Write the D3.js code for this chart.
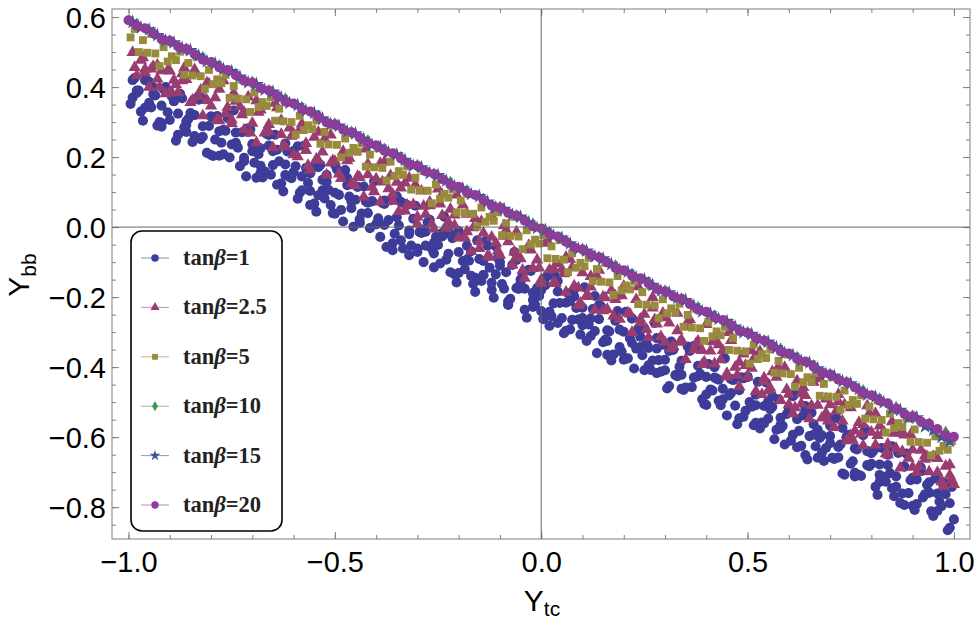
<html>
<head>
<meta charset="utf-8">
<script src="https://cdnjs.cloudflare.com/ajax/libs/d3/7.8.5/d3.min.js"></script>
<style>
    body { margin: 0; background: white; }
    svg { display: block; }
    .frame { fill: none; stroke: #7f7f7f; stroke-width: 1; }
    .tick line { stroke: #7f7f7f; }
    .domain { display: none; }
    .tick text { font-family: 'Liberation Sans', Arial, sans-serif; font-size: 29px; fill: black; }
    .zero { stroke: #666; stroke-width: 1; }
    .axis-title { font-family: 'Liberation Sans', Arial, sans-serif; font-size: 30px; fill: black; }
    .legend-box { fill: white; stroke: black; stroke-width: 1.6; }
    .legend-text { font-family: 'Liberation Serif', 'Times New Roman', serif; font-weight: bold; font-size: 22.5px; fill: #222; }
</style>
</head>
<body>
<svg id='chart' width=975 height=622></svg>
<script>

    // legend labels and axis ticks
    var labels = ['1', '2.5', '5', '10', '15', '20'];
    var xMajor = [-1, -0.5, 0, 0.5, 1];
    var yMajor = [-0.8, -0.6, -0.4, -0.2, 0, 0.2, 0.4, 0.6];

    // tan(beta) = 1 (several sweeps along x)
    var tb1 = [
        [-0.99,0.42],[-0.99,0.37],[-0.98,0.39],[-0.97,0.33],[-0.96,0.42],[-0.95,0.355],[-0.94,0.38],[-0.93,0.29],[-0.92,0.347],[-0.91,0.40],
        [-0.90,0.306],[-0.89,0.36],[-0.88,0.264],[-0.87,0.368],[-0.86,0.302],[-0.85,0.326],[-0.84,0.26],[-0.83,0.364],[-0.82,0.288],[-0.81,0.212],
        [-0.80,0.316],[-0.79,0.25],[-0.78,0.274],[-0.77,0.208],[-0.76,0.312],[-0.75,0.236],[-0.74,0.27],[-0.73,0.174],[-0.72,0.198],[-0.71,0.272],
        [-0.70,0.217],[-0.69,0.141],[-0.68,0.225],[-0.67,0.159],[-0.66,0.263],[-0.65,0.177],[-0.64,0.221],[-0.63,0.125],[-0.62,0.179],[-0.61,0.143],
        [-0.60,0.217],[-0.59,0.081],[-0.58,0.145],[-0.57,0.169],[-0.56,0.103],[-0.55,0.067],[-0.54,0.171],[-0.53,0.105],[-0.52,0.129],[-0.51,0.063],
        [-0.50,0.178],[-0.49,0.092],[-0.48,0.016],[-0.47,0.12],[-0.46,0.054],[-0.45,0.078],[-0.44,0.012],[-0.43,0.116],[-0.42,0.04],[-0.41,0.074],
        [-0.40,0.008],[-0.39,-0.028],[-0.38,0.076],[-0.37,0.02],[-0.36,-0.066],[-0.35,0.028],[-0.34,-0.038],[-0.33,0.066],[-0.32,-0.02],[-0.31,0.024],
        [-0.30,-0.071],[-0.29,-0.017],[-0.28,-0.053],[-0.27,0.021],[-0.26,-0.115],[-0.25,-0.051],[-0.24,-0.027],[-0.23,-0.093],[-0.22,-0.019],[-0.21,-0.135],
        [-0.20,-0.071],[-0.19,-0.097],[-0.18,-0.053],[-0.17,-0.139],[-0.16,-0.185],[-0.15,-0.091],[-0.14,-0.137],[-0.13,-0.053],[-0.12,-0.179],[-0.11,-0.135],
        [-0.10,-0.11],[-0.09,-0.176],[-0.08,-0.222],[-0.07,-0.108],[-0.06,-0.174],[-0.05,-0.16],[-0.04,-0.236],[-0.03,-0.122],[-0.02,-0.208],[-0.01,-0.174],
        [0.00,-0.24],[0.01,-0.166],[0.02,-0.282],[0.03,-0.218],[0.04,-0.154],[0.05,-0.26],[0.06,-0.216],[0.07,-0.292],[0.08,-0.198],[0.09,-0.264],
        [0.10,-0.23],[0.11,-0.325],[0.12,-0.261],[0.13,-0.297],[0.14,-0.223],[0.15,-0.329],[0.16,-0.295],[0.17,-0.381],[0.18,-0.267],[0.19,-0.343],
        [0.20,-0.299],[0.21,-0.375],[0.22,-0.261],[0.23,-0.347],[0.24,-0.313],[0.25,-0.409],[0.26,-0.345],[0.27,-0.381],[0.28,-0.317],[0.29,-0.413],
        [0.30,-0.379],[0.31,-0.454],[0.32,-0.35],[0.33,-0.426],[0.34,-0.382],[0.35,-0.458],[0.36,-0.354],[0.37,-0.43],[0.38,-0.396],[0.39,-0.492],
        [0.40,-0.428],[0.41,-0.464],[0.42,-0.40],[0.43,-0.496],[0.44,-0.462],[0.45,-0.538],[0.46,-0.434],[0.47,-0.51],[0.48,-0.466],[0.49,-0.542],
        [0.50,-0.428],[0.51,-0.513],[0.52,-0.479],[0.53,-0.575],[0.54,-0.511],[0.55,-0.547],[0.56,-0.483],[0.57,-0.579],[0.58,-0.545],[0.59,-0.621],
        [0.60,-0.517],[0.61,-0.593],[0.62,-0.549],[0.63,-0.625],[0.64,-0.521],[0.65,-0.597],[0.66,-0.563],[0.67,-0.659],[0.68,-0.595],[0.69,-0.631],
        [0.70,-0.567],[0.71,-0.662],[0.72,-0.628],[0.73,-0.704],[0.74,-0.60],[0.75,-0.676],[0.76,-0.632],[0.77,-0.708],[0.78,-0.594],[0.79,-0.68],
        [0.80,-0.646],[0.81,-0.742],[0.82,-0.678],[0.83,-0.714],[0.84,-0.65],[0.85,-0.746],[0.86,-0.712],[0.87,-0.788],[0.88,-0.684],[0.89,-0.76],
        [0.90,-0.716],[0.91,-0.791],[0.92,-0.687],[0.93,-0.763],[0.94,-0.729],[0.95,-0.825],[0.96,-0.761],[0.97,-0.797],[0.98,-0.733],[0.99,-0.859],
        [0.99,-0.789],[1.00,-0.835],
        [-0.995,0.352],[-0.985,0.426],[-0.975,0.39],[-0.965,0.304],[-0.955,0.418],[-0.945,0.342],[-0.935,0.376],[-0.925,0.30],[-0.915,0.394],[-0.905,0.328],
        [-0.895,0.373],[-0.885,0.247],[-0.875,0.381],[-0.865,0.285],[-0.855,0.309],[-0.845,0.243],[-0.835,0.367],[-0.825,0.251],[-0.815,0.365],[-0.805,0.289],
        [-0.795,0.203],[-0.785,0.317],[-0.775,0.241],[-0.765,0.275],[-0.755,0.199],[-0.745,0.333],[-0.735,0.227],[-0.725,0.271],[-0.715,0.145],[-0.705,0.279],
        [-0.695,0.184],[-0.685,0.208],[-0.675,0.142],[-0.665,0.266],[-0.655,0.15],[-0.645,0.264],[-0.635,0.188],[-0.625,0.102],[-0.615,0.216],[-0.605,0.14],
        [-0.595,0.174],[-0.585,0.098],[-0.575,0.232],[-0.565,0.126],[-0.555,0.17],[-0.545,0.044],[-0.535,0.178],[-0.525,0.082],[-0.515,0.106],[-0.505,0.04],
        [-0.495,0.165],[-0.485,0.049],[-0.475,0.163],[-0.465,0.087],[-0.455,0.001],[-0.445,0.115],[-0.435,0.039],[-0.425,0.073],[-0.415,-0.003],[-0.405,0.131],
        [-0.395,0.025],[-0.385,0.069],[-0.375,-0.057],[-0.365,0.077],[-0.355,-0.019],[-0.345,0.005],[-0.335,-0.061],[-0.325,0.063],[-0.315,-0.053],[-0.305,0.061],
        [-0.295,-0.014],[-0.285,-0.10],[-0.275,0.014],[-0.265,-0.062],[-0.255,-0.028],[-0.245,-0.104],[-0.235,0.03],[-0.225,-0.076],[-0.215,-0.032],[-0.205,-0.158],
        [-0.195,-0.024],[-0.185,-0.12],[-0.175,-0.096],[-0.165,-0.162],[-0.155,-0.038],[-0.145,-0.154],[-0.135,-0.04],[-0.125,-0.116],[-0.115,-0.202],[-0.105,-0.088],
        [-0.095,-0.163],[-0.085,-0.129],[-0.075,-0.205],[-0.065,-0.071],[-0.055,-0.177],[-0.045,-0.133],[-0.035,-0.259],[-0.025,-0.125],[-0.015,-0.221],[-0.005,-0.197],
        [0.005,-0.263],[0.015,-0.139],[0.025,-0.255],[0.035,-0.141],[0.045,-0.217],[0.055,-0.303],[0.065,-0.189],[0.075,-0.265],[0.085,-0.231],[0.095,-0.307],
        [0.105,-0.172],[0.115,-0.278],[0.125,-0.234],[0.135,-0.36],[0.145,-0.226],[0.155,-0.322],[0.165,-0.298],[0.175,-0.364],[0.185,-0.24],[0.195,-0.356],
        [0.205,-0.242],[0.215,-0.318],[0.225,-0.404],[0.235,-0.29],[0.245,-0.366],[0.255,-0.332],[0.265,-0.408],[0.275,-0.274],[0.285,-0.38],[0.295,-0.336],
        [0.305,-0.461],[0.315,-0.327],[0.325,-0.423],[0.335,-0.399],[0.345,-0.465],[0.355,-0.341],[0.365,-0.457],[0.375,-0.343],[0.385,-0.419],[0.395,-0.505],
        [0.405,-0.391],[0.415,-0.467],[0.425,-0.433],[0.435,-0.509],[0.445,-0.375],[0.455,-0.481],[0.465,-0.437],[0.475,-0.563],[0.485,-0.429],[0.495,-0.525],
        [0.505,-0.50],[0.515,-0.566],[0.525,-0.442],[0.535,-0.558],[0.545,-0.444],[0.555,-0.52],[0.565,-0.606],[0.575,-0.492],[0.585,-0.568],[0.595,-0.534],
        [0.605,-0.61],[0.615,-0.476],[0.625,-0.582],[0.635,-0.538],[0.645,-0.664],[0.655,-0.53],[0.665,-0.626],[0.675,-0.602],[0.685,-0.668],[0.695,-0.544],
        [0.705,-0.659],[0.715,-0.545],[0.725,-0.621],[0.735,-0.707],[0.745,-0.593],[0.755,-0.669],[0.765,-0.635],[0.775,-0.711],[0.785,-0.577],[0.795,-0.683],
        [0.805,-0.639],[0.815,-0.765],[0.825,-0.631],[0.835,-0.727],[0.845,-0.703],[0.855,-0.769],[0.865,-0.645],[0.875,-0.761],[0.885,-0.647],[0.895,-0.723],
        [0.905,-0.808],[0.915,-0.694],[0.925,-0.772],[0.935,-0.736],[0.945,-0.812],[0.955,-0.718],[0.965,-0.784],[0.975,-0.74],[0.985,-0.866],[0.995,-0.742],
        [-0.98,0.383],[-0.95,0.415],[-0.92,0.297],[-0.89,0.36],[-0.86,0.292],[-0.83,0.374],[-0.80,0.206],[-0.77,0.278],[-0.74,0.24],[-0.71,0.282],
        [-0.68,0.155],[-0.65,0.217],[-0.62,0.149],[-0.59,0.231],[-0.56,0.063],[-0.53,0.135],[-0.50,0.098],[-0.47,0.14],[-0.44,0.012],[-0.41,0.074],
        [-0.38,0.006],[-0.35,0.088],[-0.32,-0.08],[-0.29,-0.007],[-0.26,-0.045],[-0.23,-0.003],[-0.20,-0.131],[-0.17,-0.069],[-0.14,-0.137],[-0.11,-0.055],
        [-0.08,-0.222],[-0.05,-0.15],[-0.02,-0.188],[0.01,-0.146],[0.04,-0.274],[0.07,-0.212],[0.10,-0.28],[0.13,-0.197],[0.16,-0.365],[0.19,-0.293],
        [0.22,-0.331],[0.25,-0.289],[0.28,-0.417],[0.31,-0.354],[0.34,-0.422],[0.37,-0.34],[0.40,-0.508],[0.43,-0.436],[0.46,-0.474],[0.49,-0.432],
        [0.52,-0.559],[0.55,-0.497],[0.58,-0.565],[0.61,-0.483],[0.64,-0.651],[0.67,-0.579],[0.70,-0.617],[0.73,-0.574],[0.76,-0.702],[0.79,-0.64],
        [0.82,-0.708],[0.85,-0.626],[0.88,-0.794],[0.91,-0.721],[0.94,-0.759],[0.97,-0.727],
        [-0.96,0.341],[-0.94,0.399],[-0.92,0.287],[-0.90,0.386],[-0.88,0.324],[-0.86,0.272],[-0.84,0.32],[-0.82,0.258],[-0.80,0.316],[-0.78,0.204],
        [-0.76,0.322],[-0.74,0.24],[-0.72,0.188],[-0.70,0.237],[-0.68,0.175],[-0.66,0.233],[-0.64,0.121],[-0.62,0.239],[-0.60,0.157],[-0.58,0.105],
        [-0.56,0.153],[-0.54,0.091],[-0.52,0.149],[-0.50,0.038],[-0.48,0.156],[-0.46,0.074],[-0.44,0.022],[-0.42,0.07],[-0.40,0.008],[-0.38,0.066],
        [-0.36,-0.046],[-0.34,0.072],[-0.32,-0.01],[-0.30,-0.061],[-0.28,-0.013],[-0.26,-0.075],[-0.24,-0.017],[-0.22,-0.129],[-0.20,-0.011],[-0.18,-0.093],
        [-0.16,-0.145],[-0.14,-0.097],[-0.12,-0.159],[-0.10,-0.10],[-0.08,-0.212],[-0.06,-0.094],[-0.04,-0.176],[-0.02,-0.228],[0.00,-0.18],[0.02,-0.242],
        [0.04,-0.184],[0.06,-0.296],[0.08,-0.178],[0.10,-0.26],[0.12,-0.311],[0.14,-0.263],[0.16,-0.325],[0.18,-0.267],[0.20,-0.379],[0.22,-0.261],
        [0.24,-0.343],[0.26,-0.395],[0.28,-0.347],[0.30,-0.409],[0.32,-0.35],[0.34,-0.462],[0.36,-0.344],[0.38,-0.426],[0.40,-0.478],[0.42,-0.43],
        [0.44,-0.492],[0.46,-0.434],[0.48,-0.546],[0.50,-0.428],[0.52,-0.509],[0.54,-0.561],[0.56,-0.513],[0.58,-0.575],[0.60,-0.517],[0.62,-0.629],
        [0.64,-0.511],[0.66,-0.593],[0.68,-0.645],[0.70,-0.597],[0.72,-0.658],[0.74,-0.60],[0.76,-0.712],[0.78,-0.594],[0.80,-0.676],[0.82,-0.728],
        [0.84,-0.68],[0.86,-0.742],[0.88,-0.684],[0.90,-0.796],[0.92,-0.697],[0.94,-0.759],[0.96,-0.811],[0.98,-0.763]
    ];

    // tan(beta) = 2.5
    var tb25 = [
        [-0.99,0.499],[-0.98,0.433],[-0.97,0.477],[-0.96,0.451],[-0.95,0.40],[-0.94,0.459],[-0.93,0.423],[-0.92,0.447],[-0.91,0.381],[-0.90,0.446],
        [-0.89,0.42],[-0.88,0.384],[-0.87,0.438],[-0.86,0.422],[-0.85,0.356],[-0.84,0.45],[-0.83,0.374],[-0.82,0.318],[-0.81,0.412],[-0.80,0.346],
        [-0.79,0.37],[-0.78,0.304],[-0.77,0.418],[-0.76,0.342],[-0.75,0.306],[-0.74,0.36],[-0.73,0.344],[-0.72,0.278],[-0.71,0.372],[-0.70,0.297],
        [-0.69,0.241],[-0.68,0.335],[-0.67,0.269],[-0.66,0.293],[-0.65,0.227],[-0.64,0.341],[-0.63,0.265],[-0.62,0.229],[-0.61,0.283],[-0.60,0.267],
        [-0.59,0.201],[-0.58,0.295],[-0.57,0.219],[-0.56,0.163],[-0.55,0.257],[-0.54,0.191],[-0.53,0.215],[-0.52,0.149],[-0.51,0.263],[-0.50,0.188],
        [-0.49,0.152],[-0.48,0.206],[-0.47,0.19],[-0.46,0.124],[-0.45,0.218],[-0.44,0.142],[-0.43,0.086],[-0.42,0.18],[-0.41,0.114],[-0.40,0.138],
        [-0.39,0.072],[-0.38,0.186],[-0.37,0.11],[-0.36,0.074],[-0.35,0.128],[-0.34,0.112],[-0.33,0.046],[-0.32,0.14],[-0.31,0.064],[-0.30,0.009],
        [-0.29,0.103],[-0.28,0.037],[-0.27,0.061],[-0.26,-0.005],[-0.25,0.109],[-0.24,0.033],[-0.23,-0.003],[-0.22,0.051],[-0.21,0.035],[-0.20,-0.031],
        [-0.19,0.063],[-0.18,-0.013],[-0.17,-0.069],[-0.16,0.025],[-0.15,-0.041],[-0.14,-0.017],[-0.13,-0.083],[-0.12,0.031],[-0.11,-0.045],[-0.10,-0.08],
        [-0.09,-0.026],[-0.08,-0.042],[-0.07,-0.108],[-0.06,-0.014],[-0.05,-0.09],[-0.04,-0.146],[-0.03,-0.052],[-0.02,-0.118],[-0.01,-0.094],[0.00,-0.16],
        [0.01,-0.046],[0.02,-0.122],[0.03,-0.158],[0.04,-0.104],[0.05,-0.12],[0.06,-0.186],[0.07,-0.092],[0.08,-0.168],[0.09,-0.224],[0.10,-0.13],
        [0.11,-0.195],[0.12,-0.171],[0.13,-0.237],[0.14,-0.123],[0.15,-0.199],[0.16,-0.235],[0.17,-0.181],[0.18,-0.197],[0.19,-0.263],[0.20,-0.169],
        [0.21,-0.245],[0.22,-0.301],[0.23,-0.207],[0.24,-0.273],[0.25,-0.249],[0.26,-0.315],[0.27,-0.201],[0.28,-0.277],[0.29,-0.313],[0.30,-0.259],
        [0.31,-0.274],[0.32,-0.34],[0.33,-0.246],[0.34,-0.322],[0.35,-0.378],[0.36,-0.284],[0.37,-0.35],[0.38,-0.326],[0.39,-0.392],[0.40,-0.278],
        [0.41,-0.354],[0.42,-0.39],[0.43,-0.336],[0.44,-0.352],[0.45,-0.418],[0.46,-0.324],[0.47,-0.40],[0.48,-0.456],[0.49,-0.362],[0.50,-0.428],
        [0.51,-0.403],[0.52,-0.469],[0.53,-0.355],[0.54,-0.431],[0.55,-0.467],[0.56,-0.413],[0.57,-0.429],[0.58,-0.495],[0.59,-0.401],[0.60,-0.477],
        [0.61,-0.533],[0.62,-0.439],[0.63,-0.505],[0.64,-0.481],[0.65,-0.547],[0.66,-0.433],[0.67,-0.509],[0.68,-0.545],[0.69,-0.491],[0.70,-0.507],
        [0.71,-0.572],[0.72,-0.478],[0.73,-0.554],[0.74,-0.61],[0.75,-0.516],[0.76,-0.582],[0.77,-0.558],[0.78,-0.624],[0.79,-0.51],[0.80,-0.586],
        [0.81,-0.622],[0.82,-0.568],[0.83,-0.584],[0.84,-0.65],[0.85,-0.556],[0.86,-0.632],[0.87,-0.688],[0.88,-0.594],[0.89,-0.66],[0.90,-0.636],
        [0.91,-0.701],[0.92,-0.637],[0.93,-0.663],[0.94,-0.699],[0.95,-0.655],[0.96,-0.661],[0.97,-0.727],[0.98,-0.683],[0.99,-0.709],[1.00,-0.735],
        [-0.985,0.456],[-0.965,0.484],[-0.945,0.452],[-0.925,0.40],[-0.905,0.448],[-0.885,0.407],[-0.865,0.455],[-0.845,0.363],[-0.825,0.391],[-0.805,0.409],
        [-0.785,0.307],[-0.765,0.325],[-0.745,0.383],[-0.725,0.321],[-0.705,0.269],[-0.685,0.328],[-0.665,0.276],[-0.645,0.354],[-0.625,0.232],[-0.605,0.26],
        [-0.585,0.278],[-0.565,0.176],[-0.545,0.194],[-0.525,0.252],[-0.505,0.19],[-0.485,0.139],[-0.465,0.197],[-0.445,0.145],[-0.425,0.223],[-0.405,0.101],
        [-0.385,0.129],[-0.365,0.147],[-0.345,0.045],[-0.325,0.063],[-0.305,0.121],[-0.285,0.06],[-0.265,0.008],[-0.245,0.066],[-0.225,0.014],[-0.205,0.092],
        [-0.185,-0.03],[-0.165,-0.002],[-0.145,0.016],[-0.125,-0.086],[-0.105,-0.068],[-0.085,-0.009],[-0.065,-0.071],[-0.045,-0.123],[-0.025,-0.065],[-0.005,-0.117],
        [0.015,-0.039],[0.035,-0.161],[0.055,-0.133],[0.075,-0.115],[0.095,-0.217],[0.115,-0.198],[0.135,-0.14],[0.155,-0.202],[0.175,-0.254],[0.195,-0.196],
        [0.215,-0.248],[0.235,-0.17],[0.255,-0.292],[0.275,-0.264],[0.295,-0.246],[0.315,-0.347],[0.335,-0.329],[0.355,-0.271],[0.375,-0.333],[0.395,-0.385],
        [0.415,-0.327],[0.435,-0.379],[0.455,-0.301],[0.475,-0.423],[0.495,-0.395],[0.515,-0.376],[0.535,-0.478],[0.555,-0.46],[0.575,-0.402],[0.595,-0.464],
        [0.615,-0.516],[0.635,-0.458],[0.655,-0.51],[0.675,-0.432],[0.695,-0.554],[0.715,-0.525],[0.735,-0.507],[0.755,-0.609],[0.775,-0.591],[0.795,-0.533],
        [0.815,-0.595],[0.835,-0.647],[0.855,-0.589],[0.875,-0.641],[0.895,-0.593],[0.915,-0.684],[0.935,-0.656],[0.955,-0.658],[0.975,-0.74],[0.995,-0.722],
        [-0.96,0.441],[-0.93,0.463],[-0.90,0.386],[-0.87,0.418],[-0.84,0.44],[-0.81,0.362],[-0.78,0.394],[-0.75,0.296],[-0.72,0.328],[-0.69,0.361],
        [-0.66,0.273],[-0.63,0.305],[-0.60,0.207],[-0.57,0.239],[-0.54,0.271],[-0.51,0.183],[-0.48,0.216],[-0.45,0.118],[-0.42,0.15],[-0.39,0.182],
        [-0.36,0.094],[-0.33,0.126],[-0.30,0.029],[-0.27,0.071],[-0.24,0.093],[-0.21,0.005],[-0.18,0.037],[-0.15,-0.061],[-0.12,-0.029],[-0.09,0.004],
        [-0.06,-0.084],[-0.03,-0.062],[0.00,-0.15],[0.03,-0.118],[0.06,-0.086],[0.09,-0.174],[0.12,-0.141],[0.15,-0.239],[0.18,-0.207],[0.21,-0.175],
        [0.24,-0.263],[0.27,-0.231],[0.30,-0.329],[0.33,-0.296],[0.36,-0.264],[0.39,-0.352],[0.42,-0.32],[0.45,-0.428],[0.48,-0.386],[0.51,-0.353],
        [0.54,-0.441],[0.57,-0.409],[0.60,-0.507],[0.63,-0.475],[0.66,-0.443],[0.69,-0.531],[0.72,-0.498],[0.75,-0.596],[0.78,-0.564],[0.81,-0.532],
        [0.84,-0.62],[0.87,-0.588],[0.90,-0.686],[0.93,-0.653],[0.96,-0.701],[0.99,-0.679]
    ];

    // tan(beta) = 5
    var tb5 = [
        [-0.995,0.542],[-0.985,0.566],[-0.975,0.50],[-0.965,0.534],[-0.955,0.498],[-0.945,0.552],[-0.935,0.496],[-0.925,0.46],[-0.915,0.514],[-0.905,0.473],
        [-0.895,0.488],[-0.885,0.477],[-0.875,0.501],[-0.865,0.435],[-0.855,0.469],[-0.845,0.433],[-0.835,0.487],[-0.825,0.431],[-0.815,0.395],[-0.805,0.449],
        [-0.795,0.408],[-0.785,0.422],[-0.775,0.411],[-0.765,0.435],[-0.755,0.369],[-0.745,0.403],[-0.735,0.367],[-0.725,0.421],[-0.715,0.365],[-0.705,0.329],
        [-0.695,0.384],[-0.685,0.343],[-0.675,0.357],[-0.665,0.346],[-0.655,0.37],[-0.645,0.304],[-0.635,0.338],[-0.625,0.302],[-0.615,0.356],[-0.605,0.30],
        [-0.595,0.264],[-0.585,0.318],[-0.575,0.277],[-0.565,0.291],[-0.555,0.28],[-0.545,0.304],[-0.535,0.238],[-0.525,0.272],[-0.515,0.236],[-0.505,0.29],
        [-0.495,0.235],[-0.485,0.199],[-0.475,0.253],[-0.465,0.212],[-0.455,0.226],[-0.445,0.215],[-0.435,0.239],[-0.425,0.173],[-0.415,0.207],[-0.405,0.171],
        [-0.395,0.225],[-0.385,0.169],[-0.375,0.133],[-0.365,0.187],[-0.355,0.146],[-0.345,0.16],[-0.335,0.149],[-0.325,0.173],[-0.315,0.107],[-0.305,0.141],
        [-0.295,0.106],[-0.285,0.16],[-0.275,0.104],[-0.265,0.068],[-0.255,0.122],[-0.245,0.081],[-0.235,0.095],[-0.225,0.084],[-0.215,0.108],[-0.205,0.042],
        [-0.195,0.076],[-0.185,0.04],[-0.175,0.094],[-0.165,0.038],[-0.155,0.002],[-0.145,0.056],[-0.135,0.015],[-0.125,0.029],[-0.115,0.018],[-0.105,0.042],
        [-0.095,-0.023],[-0.085,0.011],[-0.075,-0.025],[-0.065,0.029],[-0.055,-0.027],[-0.045,-0.063],[-0.035,-0.009],[-0.025,-0.05],[-0.015,-0.036],[-0.005,-0.047],
        [0.005,-0.023],[0.015,-0.089],[0.025,-0.055],[0.035,-0.091],[0.045,-0.037],[0.055,-0.093],[0.065,-0.129],[0.075,-0.075],[0.085,-0.116],[0.095,-0.102],
        [0.105,-0.112],[0.115,-0.088],[0.125,-0.154],[0.135,-0.12],[0.145,-0.156],[0.155,-0.102],[0.165,-0.158],[0.175,-0.194],[0.185,-0.14],[0.195,-0.181],
        [0.205,-0.167],[0.215,-0.178],[0.225,-0.154],[0.235,-0.22],[0.245,-0.186],[0.255,-0.222],[0.265,-0.168],[0.275,-0.224],[0.285,-0.26],[0.295,-0.206],
        [0.305,-0.246],[0.315,-0.232],[0.325,-0.243],[0.335,-0.219],[0.345,-0.285],[0.355,-0.251],[0.365,-0.287],[0.375,-0.233],[0.385,-0.289],[0.395,-0.325],
        [0.405,-0.271],[0.415,-0.312],[0.425,-0.298],[0.435,-0.309],[0.445,-0.285],[0.455,-0.351],[0.465,-0.317],[0.475,-0.353],[0.485,-0.299],[0.495,-0.355],
        [0.505,-0.39],[0.515,-0.336],[0.525,-0.377],[0.535,-0.363],[0.545,-0.374],[0.555,-0.35],[0.565,-0.416],[0.575,-0.382],[0.585,-0.418],[0.595,-0.364],
        [0.605,-0.42],[0.615,-0.456],[0.625,-0.402],[0.635,-0.443],[0.645,-0.429],[0.655,-0.44],[0.665,-0.416],[0.675,-0.482],[0.685,-0.448],[0.695,-0.484],
        [0.705,-0.429],[0.715,-0.485],[0.725,-0.521],[0.735,-0.467],[0.745,-0.508],[0.755,-0.494],[0.765,-0.505],[0.775,-0.481],[0.785,-0.547],[0.795,-0.513],
        [0.805,-0.549],[0.815,-0.495],[0.825,-0.551],[0.835,-0.587],[0.845,-0.533],[0.855,-0.574],[0.865,-0.56],[0.875,-0.571],[0.885,-0.547],[0.895,-0.613],
        [0.905,-0.578],[0.915,-0.614],[0.925,-0.56],[0.935,-0.616],[0.945,-0.652],[0.955,-0.598],[0.965,-0.639],[0.975,-0.625],[0.985,-0.636],[0.995,-0.612]
    ];

    // tan(beta) = 10, mostly hidden under 15 and 20
    var tb10 = [
        [-0.98,0.579],[-0.94,0.555],[-0.90,0.532],[-0.86,0.508],[-0.82,0.484],[-0.78,0.46],[-0.74,0.436],[-0.70,0.413],[-0.66,0.389],[-0.62,0.365],
        [-0.58,0.341],[-0.54,0.317],[-0.50,0.294],[-0.46,0.27],[-0.42,0.246],[-0.38,0.222],[-0.34,0.198],[-0.30,0.175],[-0.26,0.151],[-0.22,0.127],
        [-0.18,0.103],[-0.14,0.079],[-0.10,0.056],[-0.06,0.032],[-0.02,0.008],[0.02,-0.016],[0.06,-0.04],[0.10,-0.064],[0.14,-0.087],[0.18,-0.111],
        [0.22,-0.135],[0.26,-0.159],[0.30,-0.183],[0.34,-0.206],[0.38,-0.23],[0.42,-0.254],[0.46,-0.278],[0.50,-0.302],[0.54,-0.325],[0.58,-0.349],
        [0.62,-0.373],[0.66,-0.397],[0.70,-0.421],[0.74,-0.444],[0.78,-0.468],[0.82,-0.492],[0.86,-0.516],[0.90,-0.54],[0.94,-0.563],[0.98,-0.587]
    ];

    // tan(beta) = 15
    var tb15 = [
        [-0.99,0.586],[-0.97,0.570],[-0.95,0.564],[-0.93,0.548],[-0.91,0.532],[-0.89,0.527],[-0.87,0.511],[-0.85,0.505],[-0.83,0.489],[-0.81,0.473],
        [-0.79,0.467],[-0.77,0.451],[-0.75,0.445],[-0.73,0.429],[-0.71,0.413],[-0.69,0.408],[-0.67,0.392],[-0.65,0.386],[-0.63,0.370],[-0.61,0.354],
        [-0.59,0.348],[-0.57,0.332],[-0.55,0.326],[-0.53,0.310],[-0.51,0.294],[-0.49,0.289],[-0.47,0.273],[-0.45,0.267],[-0.43,0.251],[-0.41,0.235],
        [-0.39,0.229],[-0.37,0.213],[-0.35,0.207],[-0.33,0.191],[-0.31,0.175],[-0.29,0.170],[-0.27,0.154],[-0.25,0.148],[-0.23,0.132],[-0.21,0.116],
        [-0.19,0.110],[-0.17,0.094],[-0.15,0.088],[-0.13,0.072],[-0.11,0.056],[-0.09,0.051],[-0.07,0.035],[-0.05,0.029],[-0.03,0.013],[-0.01,-0.003],
        [0.01,-0.009],[0.03,-0.025],[0.05,-0.031],[0.07,-0.047],[0.09,-0.063],[0.11,-0.068],[0.13,-0.084],[0.15,-0.090],[0.17,-0.106],[0.19,-0.122],
        [0.21,-0.128],[0.23,-0.144],[0.25,-0.150],[0.27,-0.166],[0.29,-0.182],[0.31,-0.187],[0.33,-0.203],[0.35,-0.209],[0.37,-0.225],[0.39,-0.241],
        [0.41,-0.247],[0.43,-0.263],[0.45,-0.269],[0.47,-0.285],[0.49,-0.301],[0.51,-0.306],[0.53,-0.322],[0.55,-0.328],[0.57,-0.344],[0.59,-0.360],
        [0.61,-0.366],[0.63,-0.382],[0.65,-0.388],[0.67,-0.404],[0.69,-0.420],[0.71,-0.425],[0.73,-0.441],[0.75,-0.447],[0.77,-0.463],[0.79,-0.479],
        [0.81,-0.485],[0.83,-0.501],[0.85,-0.520],[0.87,-0.523],[0.89,-0.545],[0.91,-0.544],[0.93,-0.570],[0.95,-0.580],[0.97,-0.600],[0.99,-0.612]
    ];

    // tan(beta) = 20
    var tb20 = [
        [-1.00,0.591],[-0.98,0.575],[-0.96,0.568],[-0.94,0.553],[-0.92,0.537],[-0.90,0.532],[-0.88,0.516],[-0.86,0.509],[-0.84,0.494],[-0.82,0.478],
        [-0.80,0.472],[-0.78,0.456],[-0.76,0.449],[-0.74,0.434],[-0.72,0.418],[-0.70,0.413],[-0.68,0.397],[-0.66,0.390],[-0.64,0.375],[-0.62,0.359],
        [-0.60,0.353],[-0.58,0.337],[-0.56,0.330],[-0.54,0.315],[-0.52,0.299],[-0.50,0.294],[-0.48,0.278],[-0.46,0.271],[-0.44,0.256],[-0.42,0.240],
        [-0.40,0.234],[-0.38,0.218],[-0.36,0.211],[-0.34,0.196],[-0.32,0.180],[-0.30,0.175],[-0.28,0.159],[-0.26,0.152],[-0.24,0.137],[-0.22,0.121],
        [-0.20,0.115],[-0.18,0.099],[-0.16,0.092],[-0.14,0.077],[-0.12,0.061],[-0.10,0.056],[-0.08,0.040],[-0.06,0.033],[-0.04,0.018],[-0.02,0.002],
        [0.00,-0.004],[0.02,-0.020],[0.04,-0.027],[0.06,-0.042],[0.08,-0.058],[0.10,-0.064],[0.12,-0.079],[0.14,-0.086],[0.16,-0.101],[0.18,-0.117],
        [0.20,-0.123],[0.22,-0.139],[0.24,-0.146],[0.26,-0.161],[0.28,-0.177],[0.30,-0.183],[0.32,-0.198],[0.34,-0.205],[0.36,-0.220],[0.38,-0.236],
        [0.40,-0.242],[0.42,-0.258],[0.44,-0.265],[0.46,-0.280],[0.48,-0.296],[0.50,-0.302],[0.52,-0.317],[0.54,-0.324],[0.56,-0.339],[0.58,-0.355],
        [0.60,-0.361],[0.62,-0.377],[0.64,-0.384],[0.66,-0.399],[0.68,-0.415],[0.70,-0.421],[0.72,-0.436],[0.74,-0.443],[0.76,-0.458],[0.78,-0.474],
        [0.80,-0.480],[0.82,-0.496],[0.84,-0.503],[0.86,-0.518],[0.88,-0.534],[0.90,-0.540],[0.92,-0.555],[0.94,-0.562],[0.96,-0.577],[0.98,-0.593],
        [1.00,-0.599]
    ];

    var svg = d3.select('#chart');

    var x = d3.scaleLinear().domain([-1.04, 1.039]).range([112, 970]);
    var y = d3.scaleLinear().domain([-0.891, 0.623]).range([539, 9]);

    var colors = ['#3d3d99', '#993d71', '#998b3d', '#3d9954', '#3d5599', '#8b3d99'];
    var shapes = [d3.symbolCircle, d3.symbolTriangle, d3.symbolSquare, d3.symbolDiamond, d3.symbolStar, d3.symbolCircle];
    var sizes = [80, 66, 62, 56, 66, 78];
    var allSeries = [tb1, tb25, tb5, tb10, tb15, tb20];

    var fmt = d3.format('.1f');

    // frame ticks on all four sides, pointing inward
    function addTicks(axisFn, transform, values, size, withLabels) {
        var ax = axisFn.tickValues(values).tickSizeInner(-size).tickSizeOuter(0);
        if (withLabels) {
            ax.tickFormat(fmt).tickPadding(12);
        } else {
            ax.tickFormat('');
        }
        return svg.append('g').attr('transform', transform).call(ax);
    }

    var xMinor = d3.range(-10, 11).map(function(i) { return i / 10; });
    var yMinor = d3.range(-17, 13).map(function(i) { return i / 20; });

    addTicks(d3.axisBottom(x), 'translate(0,539)', xMinor, 4, false);
    addTicks(d3.axisBottom(x), 'translate(0,539)', xMajor, 7, true);
    addTicks(d3.axisTop(x), 'translate(0,9)', xMinor, 4, false);
    addTicks(d3.axisTop(x), 'translate(0,9)', xMajor, 7, false);
    addTicks(d3.axisLeft(y), 'translate(112,0)', yMinor, 4, false);
    var yLabels = addTicks(d3.axisLeft(y), 'translate(112,0)', yMajor, 7, true);
    addTicks(d3.axisRight(y), 'translate(970,0)', yMinor, 4, false);
    addTicks(d3.axisRight(y), 'translate(970,0)', yMajor, 7, false);

    yLabels.selectAll('text').attr('x', -6).attr('dy', '0.36em');

    var clip = svg.append('clipPath').attr('id', 'plot-clip')
        .append('rect').attr('x', 112).attr('y', 9).attr('width', 858).attr('height', 530);

    var points = svg.append('g').attr('clip-path', 'url(#plot-clip)');

    allSeries.forEach(function(data, i) {
        var sym = d3.symbol().type(shapes[i]).size(sizes[i]);
        points.append('g')
            .selectAll('path')
            .data(data)
          .enter()
            .append('path')
            .attr('d', sym)
            .attr('transform', function(d) { return 'translate(' + x(d[0]) + ',' + y(d[1]) + ')'; })
            .style('fill', colors[i]);
    });

    // zero axes drawn over the points
    svg.append('line').attr('class', 'zero')
        .attr('x1', 112).attr('x2', 970).attr('y1', y(0)).attr('y2', y(0));
    svg.append('line').attr('class', 'zero')
        .attr('x1', x(0)).attr('x2', x(0)).attr('y1', 9).attr('y2', 539);

    svg.append('rect').attr('class', 'frame')
        .attr('x', 112).attr('y', 9).attr('width', 858).attr('height', 530);

    // axis titles
    var yt = svg.append('text').attr('class', 'axis-title')
        .attr('transform', 'translate(29,275) rotate(-90)')
        .attr('text-anchor', 'middle');
    yt.append('tspan').text('Y');
    yt.append('tspan').attr('dy', 7).style('font-size', '21px').text('bb');

    var xt = svg.append('text').attr('class', 'axis-title')
        .attr('x', 542).attr('y', 611)
        .attr('text-anchor', 'middle');
    xt.append('tspan').text('Y');
    xt.append('tspan').attr('dy', 5).style('font-size', '21px').text('tc');

    // legend
    var legend = svg.append('g');
    legend.append('rect').attr('class', 'legend-box')
        .attr('x', 131).attr('y', 231).attr('width', 151).attr('height', 300)
        .attr('rx', 11).attr('ry', 11);

    var entries = legend.selectAll('.entry')
        .data(labels)
      .enter()
        .append('g')
        .attr('class', 'entry')
        .attr('transform', function(d, i) { return 'translate(0,' + (258 + i * 49.4) + ')'; });

    entries.append('line')
        .attr('x1', 141).attr('x2', 169)
        .style('stroke', function(d, i) { return colors[i]; })
        .style('stroke-opacity', 0.6)
        .style('stroke-width', 1);

    entries.append('path')
        .attr('transform', 'translate(155,0)')
        .attr('d', function(d, i) { return d3.symbol().type(shapes[i]).size(sizes[i] * 0.55)(); })
        .style('fill', function(d, i) { return colors[i]; });

    var lt = entries.append('text').attr('class', 'legend-text')
        .attr('x', 183).attr('y', 7);
    lt.append('tspan').text('tan');
    lt.append('tspan').style('font-style', 'italic').text('\u03b2');
    lt.append('tspan').text(function(d) { return '=' + d; });

</script>
</body>
</html>
